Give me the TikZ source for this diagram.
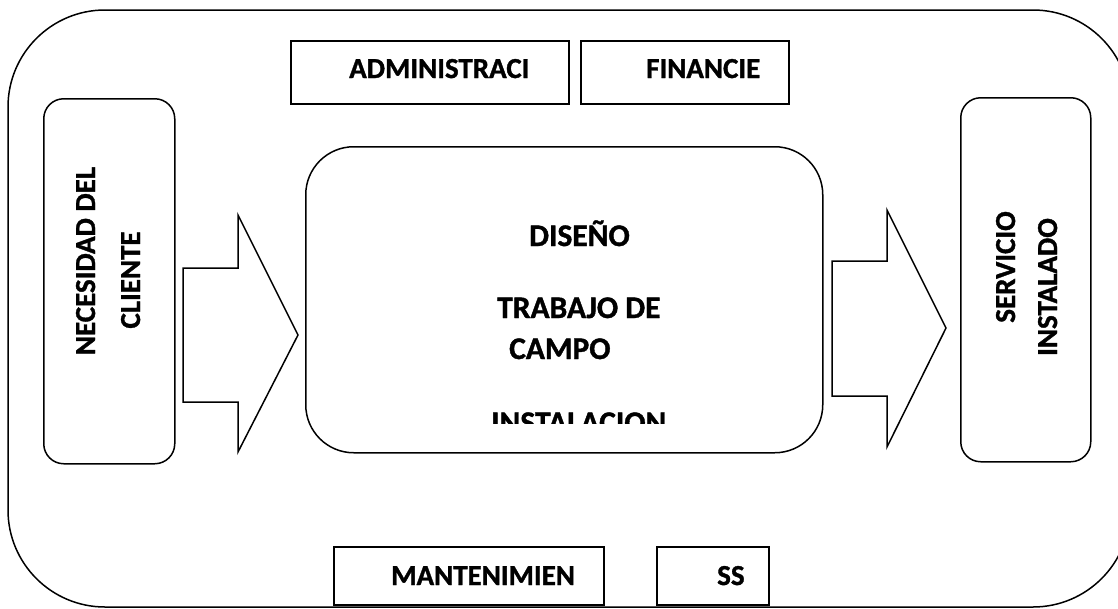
\documentclass[tikz,border=0pt]{standalone}
\usepackage{fontspec}
\setmainfont{Carlito}[BoldFeatures={FakeBold=1.2}]
\newcommand{\lblfont}{\fontsize{29}{35}\selectfont\bfseries}
\newcommand{\biglblfont}{\fontsize{31.5}{38}\selectfont\bfseries}
\tikzset{
  outline/.style={draw=black, line width=1.5pt},
  sqbox/.style={outline, inner sep=0pt, anchor=north west},
  rbox/.style={outline, inner sep=0pt, anchor=north west, rounded corners=20pt},
  lbl/.style={font=\lblfont, inner sep=0pt},
  biglbl/.style={font=\biglblfont, inner sep=0pt},
  blockarrow/.style={outline, line join=miter, fill=white},
}
\begin{document}
\begin{tikzpicture}[x=1pt, y=-1pt]
\useasboundingbox (0,0) rectangle (1118,608);
\clip (0,0) rectangle (1118,608);
% outer frame
\draw[outline, rounded corners=97pt] (8,10) rectangle (1130,607);
% top boxes
\node[sqbox, minimum width=278pt, minimum height=63pt] (admin) at (290,40) {};
\node[sqbox, minimum width=208pt, minimum height=63pt] (fin) at (580,40) {};
\node[lbl, anchor=base west] (admint) at (349,78) {ADMINISTRACI};
\node[lbl, anchor=base west] (fint) at (646,78) {FINANCIE};
% left box
\node[rbox, minimum width=131pt, minimum height=365pt] (need) at (43,98) {};
\node[lbl, rotate=90, anchor=base] (need1) at (95,261) {NECESIDAD DEL};
\node[lbl, rotate=90, anchor=base] (need2) at (140,280) {CLIENTE};
% right box
\node[rbox, minimum width=130pt, minimum height=364pt] (serv) at (960,97) {};
\node[lbl, rotate=90, anchor=base] (serv1) at (1015,267) {SERVICIO};
\node[lbl, rotate=90, anchor=base] (serv2) at (1057,287) {INSTALADO};
% centre box
\node[rbox, rounded corners=48pt, minimum width=517pt, minimum height=306pt] (proc) at (305,146) {};
\node[biglbl, anchor=base west] (dis) at (529,246) {DISEÑO};
\node[biglbl, anchor=base west] (trab) at (497,318) {TRABAJO DE};
\node[biglbl, anchor=base west] (camp) at (509,359) {CAMPO};
\begin{scope}
\clip (305,146) rectangle (822,423);
\node[biglbl, anchor=base west] (inst) at (491,433) {INSTALACION};
\end{scope}
% block arrows
\draw[blockarrow] (183,268) -- (238,268) -- (238,215) -- (298,335) -- (238,452) -- (238,402) -- (183,402) -- cycle;
\draw[blockarrow] (832,261) -- (887,261) -- (887,210) -- (946,328) -- (887,447) -- (887,396) -- (832,396) -- cycle;
% bottom boxes
\node[sqbox, minimum width=270pt, minimum height=58pt] (mant) at (333,546) {};
\node[sqbox, minimum width=112pt, minimum height=58pt] (ss) at (656,546) {};
\node[lbl, anchor=base west] (mantt) at (391,585) {MANTENIMIEN};
\node[lbl, anchor=base west] (sst) at (717,585) {SS};
\end{tikzpicture}
\end{document}
